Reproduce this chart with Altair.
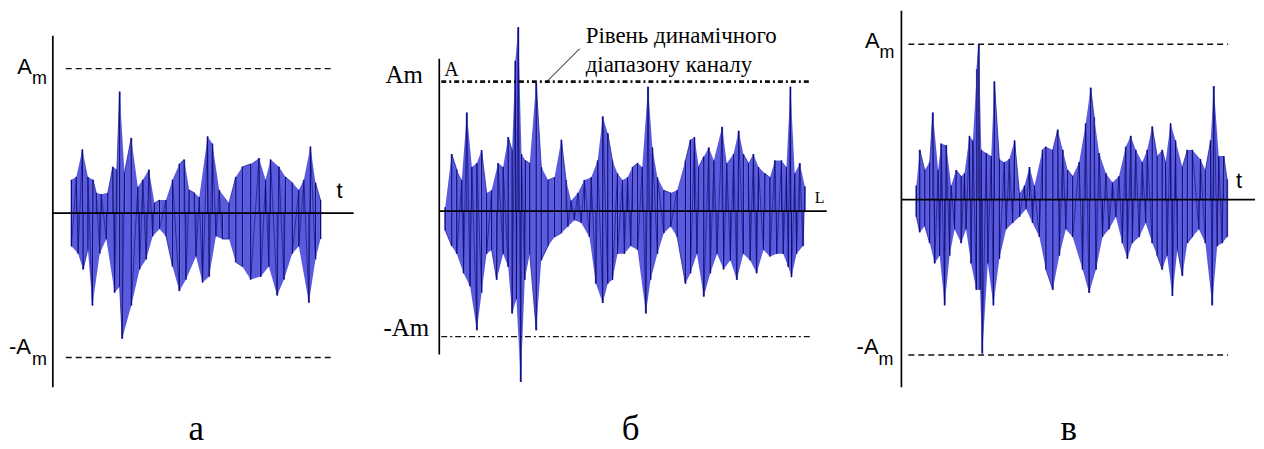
import altair as alt
import pandas as pd

# ---------------- data (signal readings, in units of Am; t = % of record length) ----------------
A_UP = [(1.1,0.23),(3.0,0.25),(5.4,0.44),(7.6,0.25),(9.6,0.23),(10.9,0.14),(12.9,0.13),(15.5,0.14),
        (17.5,0.32),(19.1,0.30),(20.2,0.84),(22.1,0.28),(24.8,0.52),(27.4,0.18),(29.4,0.23),(31.8,0.30),
        (34.0,0.07),(36.0,0.09),(38.6,0.09),(41.2,0.23),(43.9,0.34),(45.8,0.37),(47.8,0.16),(49.8,0.14),
        (51.8,0.11),(55.1,0.53),(57.0,0.48),(59.7,0.16),(63.6,0.07),(66.3,0.25),(68.9,0.32),(72.2,0.34),
        (75.5,0.38),(78.1,0.23),(80.1,0.37),(83.4,0.32),(86.0,0.25),(88.7,0.21),(91.3,0.16),(93.3,0.23),
        (95.9,0.46),(97.9,0.21),(99.9,0.09)]
A_LO = [(1.1,-0.23),(3.7,-0.28),(5.7,-0.39),(7.6,-0.25),(9.4,-0.64),(12.3,-0.28),(14.9,-0.18),(18.2,-0.55),
        (20.2,-0.51),(21.2,-0.87),(24.8,-0.64),(28.1,-0.39),(30.7,-0.32),(33.3,-0.16),(36.0,-0.11),(38.6,-0.16),
        (41.2,-0.37),(43.9,-0.54),(46.5,-0.46),(50.5,-0.30),(53.1,-0.48),(55.7,-0.44),(58.4,-0.16),(61.0,-0.18),
        (63.6,-0.18),(66.3,-0.34),(68.9,-0.37),(72.2,-0.46),(76.2,-0.44),(79.4,-0.37),(82.7,-0.57),(85.4,-0.46),
        (88.7,-0.28),(91.3,-0.23),(95.3,-0.62),(97.9,-0.32),(99.9,-0.18)]

B_UP = [(0.0,0.03),(1.8,0.44),(3.2,0.32),(4.6,0.24),(6.0,0.76),(7.4,0.34),(8.8,0.37),(10.1,0.47),(11.5,0.14),
        (12.9,0.16),(14.7,0.37),(16.1,0.34),(17.5,0.57),(18.6,0.47),(19.5,1.16),(20.3,1.42),(21.2,0.44),
        (22.3,0.39),(23.5,0.37),(25.3,0.99),(26.7,0.34),(28.6,0.24),(30.4,0.26),(32.3,0.55),(33.6,0.24),
        (35.0,0.08),(36.9,0.14),(38.7,0.24),(40.6,0.26),(42.4,0.39),(43.8,0.73),(45.2,0.60),(46.5,0.39),
        (47.9,0.29),(49.3,0.24),(50.7,0.26),(52.1,0.34),(53.5,0.37),(54.8,0.34),(56.4,0.96),(57.6,0.49),
        (59.0,0.26),(60.8,0.16),(62.7,0.14),(64.5,0.16),(66.8,0.39),(68.2,0.55),(69.3,0.57),(70.5,0.34),
        (71.9,0.42),(73.3,0.49),(74.7,0.39),(77.0,0.65),(78.3,0.37),(80.2,0.44),(81.6,0.62),(82.9,0.44),
        (84.3,0.37),(85.7,0.44),(87.1,0.34),(88.9,0.29),(90.3,0.26),(91.7,0.39),(93.5,0.39),(94.9,0.34),
        (96.0,0.96),(97.2,0.29),(98.6,0.37),(100.0,0.19)]
B_LO = [(0.0,-0.15),(1.8,-0.27),(3.2,-0.33),(5.1,-0.48),(6.9,-0.58),(8.8,-0.92),(10.1,-0.63),(11.5,-0.33),
        (12.9,-0.30),(14.3,-0.53),(16.1,-0.33),(17.5,-0.43),(18.6,-0.79),(19.8,-0.68),(21.0,-1.32),(22.1,-0.53),
        (23.5,-0.33),(25.3,-0.92),(26.7,-0.38),(28.6,-0.27),(30.4,-0.20),(32.3,-0.17),(34.1,-0.12),(35.9,-0.07),
        (37.8,-0.09),(40.1,-0.20),(41.9,-0.56),(43.8,-0.71),(45.2,-0.56),(46.5,-0.53),(47.9,-0.33),(49.8,-0.33),
        (51.6,-0.27),(53.5,-0.30),(55.8,-0.79),(57.1,-0.53),(59.0,-0.33),(60.8,-0.17),(62.7,-0.12),(64.5,-0.20),
        (66.8,-0.56),(68.2,-0.48),(70.0,-0.33),(71.9,-0.66),(73.7,-0.48),(75.6,-0.33),(77.4,-0.45),(79.3,-0.38),
        (81.1,-0.53),(82.9,-0.33),(84.8,-0.38),(86.6,-0.48),(88.5,-0.30),(90.3,-0.35),(92.2,-0.33),(94.0,-0.33),
        (95.4,-0.43),(96.3,-0.51),(97.7,-0.33),(99.5,-0.27)]

C_UP = [(0.0,0.09),(1.1,0.32),(2.7,0.19),(4.3,0.24),(5.3,0.56),(7.0,0.19),(8.0,0.36),(9.6,0.35),(11.2,0.09),
        (12.8,0.19),(14.4,0.15),(15.5,0.17),(17.1,0.41),(18.2,0.38),(19.5,0.84),(20.1,1.00),(20.9,0.32),
        (22.5,0.30),(24.1,0.28),(25.1,0.76),(26.7,0.26),(28.3,0.24),(29.9,0.26),(31.6,0.38),(33.2,0.04),
        (34.8,0.09),(36.4,0.21),(38.0,0.09),(40.6,0.32),(41.7,0.34),(43.9,0.32),(45.5,0.45),(47.1,0.32),
        (48.7,0.19),(50.3,0.15),(52.4,0.24),(54.5,0.49),(56.1,0.72),(57.2,0.53),(58.8,0.30),(61.0,0.17),
        (63.1,0.11),(65.2,0.15),(67.4,0.34),(69.0,0.41),(70.6,0.32),(72.7,0.24),(74.3,0.32),(75.9,0.47),
        (77.5,0.28),(79.1,0.32),(80.2,0.24),(81.8,0.49),(83.4,0.38),(85.6,0.21),(87.2,0.32),(88.8,0.32),
        (91.4,0.26),(93.0,0.19),(94.7,0.38),(95.7,0.73),(97.3,0.28),(98.9,0.28),(100.0,0.13)]
C_LO = [(0.0,-0.11),(1.1,-0.21),(2.7,-0.17),(4.3,-0.28),(5.9,-0.41),(7.5,-0.36),(9.1,-0.68),(10.7,-0.36),
        (12.3,-0.19),(14.4,-0.28),(16.0,-0.19),(17.6,-0.41),(19.3,-0.58),(20.5,-0.58),(21.2,-0.99),(23.0,-0.41),
        (24.8,-0.68),(26.7,-0.38),(28.9,-0.19),(31.0,-0.15),(33.2,-0.11),(35.3,-0.06),(37.4,-0.15),(39.6,-0.24),
        (41.7,-0.45),(43.9,-0.58),(46.0,-0.36),(48.1,-0.19),(50.3,-0.24),(53.5,-0.45),(55.6,-0.60),(57.8,-0.45),
        (59.9,-0.24),(62.0,-0.19),(64.2,-0.11),(66.3,-0.28),(67.9,-0.38),(69.5,-0.28),(71.7,-0.24),(73.8,-0.15),
        (75.9,-0.28),(77.5,-0.36),(79.1,-0.45),(80.7,-0.36),(82.4,-0.62),(84.0,-0.32),(85.6,-0.49),(87.2,-0.28),
        (88.8,-0.24),(90.9,-0.19),(93.0,-0.28),(95.2,-0.68),(96.8,-0.30),(98.4,-0.28),(100.0,-0.24)]

# amplitude levels (+Am / -Am) for each panel
LEVELS_A = [1.0, -1.0]
LEVELS_B = [1.0, -0.97]
LEVELS_C = [1.0, -1.0]

CAPTIONS = ["а", "б", "в"]
NOTE = ["Рівень динамічного", "діапазону каналу"]

# ---------------- layout (page pixels) ----------------
TOP = 8
H = 433
SANS = "Liberation Sans"
SERIF = "Liberation Serif"

PANELS = [
    dict(up=A_UP, lo=A_LO, levels=LEVELS_A, left=8, width=372, sx0=69, sx1=322, y0=213, k=145,
         axis_x=53, axis_top=35, axis_bot=388, h_end=355, d0=66, d1=333,
         dash_top=dict(strokeDash=[6, 4], strokeWidth=1.3), dash_bot=dict(strokeDash=[6, 4], strokeWidth=1.3),
         texts=[("A", 32, 73, "right", SANS, 22), ("m", 32, 83, "left", SANS, 18),
                ("-A", 31, 355, "right", SANS, 22), ("m", 32, 366, "left", SANS, 18),
                ("t", 341, 198, "center", SANS, 22),
                (CAPTIONS[0], 197, 441, "center", SERIF, 35)],
         leader=None),
    dict(up=B_UP, lo=B_LO, levels=LEVELS_B, left=380, width=470, sx0=447, sx1=808, y0=211, k=130,
         axis_x=441, axis_top=58, axis_bot=355, h_end=830, d0=443, d1=813,
         dash_top=dict(strokeDash=[5, 3, 2, 3], strokeWidth=2.6), dash_bot=dict(strokeDash=[6, 3, 2, 3], strokeWidth=1.2),
         texts=[("Am", 387, 82, "left", SERIF, 25), ("A", 446, 75, "left", SERIF, 20),
                ("-Am", 385, 336, "left", SERIF, 25), ("L", 818, 203, "left", SERIF, 16),
                (NOTE[0], 588, 42, "left", SERIF, 23), (NOTE[1], 588, 71, "left", SERIF, 23),
                (CAPTIONS[1], 633, 441, "center", SERIF, 35)],
         leader=(582, 48, 548, 82)),
    dict(up=C_UP, lo=C_LO, levels=LEVELS_C, left=850, width=406, sx0=920, sx1=1232, y0=199.5, k=156,
         axis_x=905, axis_top=10, axis_bot=388, h_end=1260, d0=912, d1=1233,
         dash_top=dict(strokeDash=[6, 4], strokeWidth=1.3), dash_bot=dict(strokeDash=[6, 4], strokeWidth=1.3),
         texts=[("A", 883, 47, "right", SANS, 22), ("m", 883, 57, "left", SANS, 18),
                ("-A", 882, 355, "right", SANS, 22), ("m", 882, 366, "left", SANS, 18),
                ("t", 1244, 188, "center", SANS, 22),
                (CAPTIONS[2], 1073, 441, "center", SERIF, 35)],
         leader=None),
]


def build(p):
    def tx(px):
        return (px - p["sx0"]) / (p["sx1"] - p["sx0"]) * 100.0

    def vy(py):
        return (p["y0"] - py) / p["k"]

    xs = alt.Scale(domain=[tx(p["left"]), tx(p["left"] + p["width"])], nice=False, zero=False)
    ys = alt.Scale(domain=[vy(TOP + H), vy(TOP)], nice=False, zero=False)

    def X(f):
        return alt.X(f, type="quantitative", scale=xs, axis=None)

    def Y(f):
        return alt.Y(f, type="quantitative", scale=ys, axis=None)

    up = pd.DataFrame(p["up"], columns=["t", "v"]); up["side"] = "up"
    lo = pd.DataFrame(p["lo"], columns=["t", "v"]); lo["side"] = "lo"
    sig = pd.concat([up, lo], ignore_index=True).sort_values("t")

    layers = []
    layers.append(alt.Chart(sig).mark_area(color="#4848dc", opacity=0.9).encode(
        x=X("t"), y=Y("v"), y2=alt.datum(0), detail="side:N"))
    layers.append(alt.Chart(sig).mark_rule(color="#7070ee", strokeWidth=2.2, opacity=0.9).encode(
        x=X("t"), y=Y("v"), y2=alt.datum(0)))
    layers.append(alt.Chart(sig).mark_line(color="#16168a", strokeWidth=0.8, opacity=0.9).encode(
        x=X("t"), y=Y("v"), order="t:Q"))
    layers.append(alt.Chart(sig).mark_rule(color="#0a0a66", strokeWidth=0.9).encode(
        x=X("t"), y=Y("v"), y2=alt.datum(0)))

    # axes
    vax = pd.DataFrame({"t": [tx(p["axis_x"])], "v": [vy(p["axis_top"])], "v2": [vy(p["axis_bot"])]})
    layers.append(alt.Chart(vax).mark_rule(color="black", strokeWidth=1.7).encode(
        x=X("t"), y=Y("v"), y2="v2:Q"))
    hax = pd.DataFrame({"t": [tx(p["axis_x"])], "t2": [tx(p["h_end"])], "v": [0.0]})
    layers.append(alt.Chart(hax).mark_rule(color="black", strokeWidth=1.7).encode(
        x=X("t"), x2="t2:Q", y=Y("v")))

    # amplitude levels
    for lev, style in zip(p["levels"], [p["dash_top"], p["dash_bot"]]):
        d = pd.DataFrame({"t": [tx(p["d0"])], "t2": [tx(p["d1"])], "v": [lev]})
        layers.append(alt.Chart(d).mark_rule(color="#111111", **style).encode(
            x=X("t"), x2="t2:Q", y=Y("v")))

    if p["leader"]:
        x1, y1, x2, y2 = p["leader"]
        d = pd.DataFrame({"t": [tx(x1)], "t2": [tx(x2)], "v": [vy(y1)], "v2": [vy(y2)]})
        layers.append(alt.Chart(d).mark_rule(color="black", strokeWidth=1).encode(
            x=X("t"), x2="t2:Q", y=Y("v"), y2="v2:Q"))

    for text, px, py, align, font, size in p["texts"]:
        d = pd.DataFrame({"t": [tx(px)], "v": [vy(py)], "s": [text]})
        layers.append(alt.Chart(d).mark_text(align=align, baseline="alphabetic", font=font,
                                             fontSize=size, color="black").encode(
            x=X("t"), y=Y("v"), text="s:N"))

    return alt.layer(*layers).properties(width=p["width"], height=H)


chart = alt.hconcat(*[build(p) for p in PANELS], spacing=0, bounds="flush").properties(
    padding=0
).configure_view(stroke=None)

chart.save("out.html", embed_options={"renderer": "svg", "actions": False})
